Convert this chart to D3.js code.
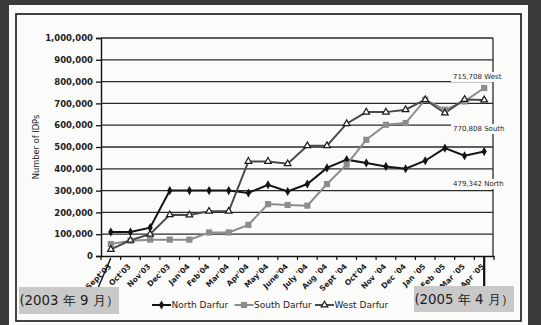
<!DOCTYPE html>
<html>
<head>
<meta charset="utf-8">
<script src="https://cdn.jsdelivr.net/npm/d3@7"></script>
<style>
  html, body { margin: 0; padding: 0; background: #3a3a3a; }
  svg { display: block; }
  text { font-family: "DejaVu Sans", Verdana, sans-serif; fill: #1e1e1e; }
</style>
</head>
<body>
<svg id="chart" width="541" height="325"></svg>
<script>
// Internally displaced persons in Darfur, monthly, Sept 2003 – Apr 2005
const months = ["Sept'03", "Oct'03", "Nov'03", "Dec'03", "Jan'04", "Feb'04", "Mar'04", "Apr'04",
  "May'04", "June'04", "July '04", "Aug '04", "Sept '04", "Oct'04", "Nov '04", "Dec '04",
  "Jan '05", "Feb '05", "Mar '05", "Apr '05"];

const northDarfur = [110000, 110000, 130000, 300000, 300000, 300000, 300000, 289000, 327000, 296000,
  330000, 404000, 442000, 427000, 411000, 400000, 437000, 495000, 460000, 479342];
const southDarfur = [55000, 70000, 75000, 75000, 75000, 108000, 108000, 143000, 238000, 234000,
  231000, 330000, 419000, 533000, 602000, 610000, 717000, 671000, 709000, 770808];
const westDarfur = [30000, 72000, 100000, 189000, 188000, 205000, 205000, 434000, 434000, 423000,
  506000, 506000, 607000, 660000, 660000, 671000, 717000, 656000, 718000, 715708];

const yTicks = [0, 100000, 200000, 300000, 400000, 500000, 600000, 700000, 800000, 900000, 1000000];
const startNote = "(2003 年 9 月）";
const endNote = "(2005 年 4 月）";

const svg = d3.select("#chart");

// page and chart frame
svg.append("rect").attr("x", 9).attr("y", 5).attr("width", 519).attr("height", 320).attr("fill", "#fbfbfa");
svg.append("rect").attr("x", 16).attr("y", 14).attr("width", 505).attr("height", 307)
  .attr("fill", "none").attr("stroke", "#151515").attr("stroke-width", 1.6);

const x = d3.scaleBand().domain(months).range([101, 494]);
const y = d3.scaleLinear().domain([0, 1000000]).range([256, 38]);
const bw = x.bandwidth();
const cx = m => x(m) + bw / 2;

// horizontal gridlines
svg.append("g").selectAll("line").data(yTicks.slice(1)).join("line")
  .attr("x1", 101).attr("x2", 493)
  .attr("y1", d => y(d)).attr("y2", d => y(d))
  .attr("stroke", "#2a2a2a").attr("stroke-width", 1.3);

// right edge of the plot
svg.append("line").attr("x1", 493).attr("x2", 493).attr("y1", y(1000000)).attr("y2", y(0))
  .attr("stroke", "#2a2a2a").attr("stroke-width", 1.3);

// y axis
const yAxis = svg.append("g").attr("transform", "translate(101,0)")
  .call(d3.axisLeft(y).tickValues(yTicks).tickFormat(d3.format(",")).tickSize(5).tickPadding(3));
yAxis.select(".domain").attr("stroke", "#111").attr("stroke-width", 1.4);
yAxis.selectAll(".tick line").attr("stroke", "#111").attr("stroke-width", 1.3);
yAxis.selectAll(".tick text").attr("font-family", "DejaVu Sans").attr("font-weight", "bold")
  .attr("font-size", 8.5).attr("fill", "#1e1e1e");

svg.append("text").attr("transform", "translate(39,147) rotate(-90)")
  .attr("text-anchor", "middle").attr("font-size", 8.3).text("Number of IDPs");

// x axis with ticks on month boundaries
const xAxis = svg.append("g").attr("transform", `translate(0,${y(0)})`)
  .call(d3.axisBottom(x).tickSize(0).tickFormat(""));
xAxis.select(".domain").attr("stroke", "#111").attr("stroke-width", 1.4);
const bounds = months.map(m => x(m)).concat([x.range()[1]]);
svg.append("g").selectAll("line").data(bounds).join("line")
  .attr("x1", d => d).attr("x2", d => d).attr("y1", y(0)).attr("y2", y(0) + 4)
  .attr("stroke", "#111").attr("stroke-width", 1.2);
svg.append("g").selectAll("text").data(months).join("text")
  .attr("transform", d => `translate(${cx(d) - 1},${y(0) + 9}) rotate(-45)`)
  .attr("text-anchor", "end").attr("dy", "0.35em")
  .attr("font-size", 7.6).attr("font-weight", "bold").text(d => d);

// series
const series = [
  { name: "North Darfur", values: northDarfur, color: "#141414", shape: d3.symbolDiamond, fill: "#141414", size: 24, tag: "North" },
  { name: "South Darfur", values: southDarfur, color: "#8c8c8c", shape: d3.symbolSquare, fill: "#8c8c8c", size: 38, tag: "South" },
  { name: "West Darfur", values: westDarfur, color: "#4a4a4a", shape: d3.symbolTriangle, fill: "#fbfbfa", size: 19, tag: "West" }
];

const line = d3.line().x((d, i) => cx(months[i])).y(d => y(d));

series.forEach(s => {
  svg.append("path").datum(s.values).attr("d", line)
    .attr("fill", "none").attr("stroke", s.color).attr("stroke-width", 2);
});
series.forEach(s => {
  svg.append("g").selectAll("path").data(s.values).join("path")
    .attr("transform", (d, i) => `translate(${cx(months[i])},${y(d)})`)
    .attr("d", d3.symbol(s.shape, s.size))
    .attr("fill", s.fill)
    .attr("stroke", s.shape === d3.symbolTriangle ? "#1a1a1a" : "none")
    .attr("stroke-width", 1.2);
});

// end-of-period labels on the right
const endLabels = [
  { text: d3.format(",")(westDarfur[westDarfur.length - 1]) + " West", y: 77 },
  { text: d3.format(",")(southDarfur[southDarfur.length - 1]) + " South", y: 129 },
  { text: d3.format(",")(northDarfur[northDarfur.length - 1]) + " North", y: 184 }
];
endLabels.forEach(l => {
  svg.append("rect").attr("x", 451).attr("y", l.y - 5).attr("width", 54).attr("height", 10).attr("fill", "#fbfbfa");
  svg.append("text").attr("x", 453).attr("y", l.y).attr("dy", "0.35em")
    .attr("font-size", 7).text(l.text);
});

// pointers to the period notes
svg.append("line").attr("x1", cx(months[0])).attr("y1", y(0) + 2).attr("x2", 98).attr("y2", 288)
  .attr("stroke", "#111").attr("stroke-width", 1.4);
svg.append("line").attr("x1", cx(months[months.length - 1])).attr("y1", y(0) + 1)
  .attr("x2", cx(months[months.length - 1])).attr("y2", 287)
  .attr("stroke", "#111").attr("stroke-width", 2.2);

// legend
const legend = svg.append("g").attr("transform", "translate(0,305)");
const legendX = [152, 234.5, 315];
series.forEach((s, i) => {
  const g = legend.append("g").attr("transform", `translate(${legendX[i]},0)`);
  g.append("line").attr("x1", 0).attr("x2", 19).attr("stroke", s.color).attr("stroke-width", 2);
  g.append("path").attr("transform", "translate(9.5,0)").attr("d", d3.symbol(s.shape, s.size))
    .attr("fill", s.fill).attr("stroke", s.shape === d3.symbolTriangle ? "#1a1a1a" : "none").attr("stroke-width", 1.2);
  g.append("text").attr("x", 19.5).attr("dy", "0.35em").attr("font-size", 9).text(s.name);
});

// period notes
[[19, 287, 100, 27, startNote], [414, 286, 100, 26, endNote]].forEach(([bx, by, w, h, t]) => {
  svg.append("rect").attr("x", bx).attr("y", by).attr("width", w).attr("height", h).attr("fill", "#c9c9c9");
  svg.append("text").attr("x", bx + w / 2).attr("y", by + h / 2).attr("dy", "0.36em")
    .attr("text-anchor", "middle").attr("font-family", "Noto Sans CJK JP")
    .attr("font-size", 13.3).attr("fill", "#1a1a1a").text(t);
});
</script>
</body>
</html>
